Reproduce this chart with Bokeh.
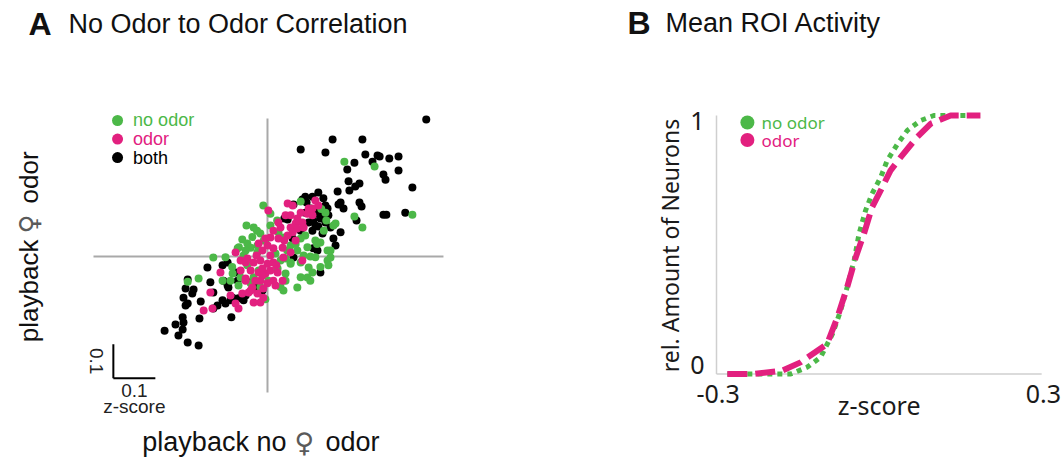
import math
from bokeh.plotting import figure
from bokeh.layouts import row
from bokeh.models import Label, Range1d
from bokeh.embed import file_html
from bokeh.resources import INLINE

GREEN = "#4cb848"
PINK = "#e2207f"
BLACK = "#000000"
GRAY = "#a9a9a9"
AXGRAY = "#cfcfcf"
SYMCOL = "#5a5a5a"
FONT_A = "Liberation Sans"
FONT_SYM = "DejaVu Sans"
FONT_B = "Noto Sans"
FEMALE = "\u2640"

# ---------------- Panel A data (z-score) ----------------
both_x = [0.378, 0.155, 0.226, 0.079, 0.138, 0.233, 0.262, 0.267, 0.290, 0.312,
          0.250, 0.207, 0.190, 0.312, 0.276, 0.281, 0.193, 0.219, 0.209, 0.345,
          0.195, 0.167, 0.121, 0.133, 0.174, 0.169, 0.181, 0.219, 0.224, 0.276,
          0.283, 0.328, 0.212, 0.062, 0.083, 0.102, 0.114, 0.126, 0.109, 0.090,
          0.098, 0.121, 0.107, 0.131, 0.040, 0.048, 0.150, 0.157, 0.109, 0.119,
          0.126, 0.062, -0.095, -0.076, -0.105, -0.095, -0.143, -0.107, -0.190, -0.136,
          -0.195, -0.176, -0.179, -0.200, -0.190, -0.195, -0.159, -0.129, -0.095, -0.093,
          -0.107, -0.100, -0.088, -0.083, -0.129, -0.119, -0.069, -0.057, -0.052, -0.162,
          -0.086, -0.202, -0.200, -0.219, -0.202, -0.212, -0.245, -0.190, -0.164, -0.071,
          -0.040, -0.029, -0.021, -0.012, 0.093, 0.107, 0.138, 0.145, 0.079, 0.138,
          0.060, 0.162, 0.174, 0.090, 0.121, 0.131, 0.114, 0.143]
both_y = [0.403, 0.344, 0.344, 0.315, 0.306, 0.300, 0.297, 0.294, 0.288, 0.294,
          0.279, 0.276, 0.256, 0.253, 0.241, 0.226, 0.221, 0.215, 0.206, 0.203,
          0.194, 0.191, 0.188, 0.171, 0.159, 0.153, 0.141, 0.159, 0.147, 0.123,
          0.123, 0.129, 0.106, 0.153, 0.168, 0.141, 0.126, 0.112, 0.106, 0.129,
          0.100, 0.088, 0.076, 0.068, 0.112, 0.109, 0.085, 0.053, 0.024, 0.018,
          -0.047, -0.003, -0.018, -0.047, -0.071, -0.085, -0.032, -0.026, -0.068, -0.076,
          -0.094, -0.097, -0.109, -0.121, -0.138, -0.144, -0.132, -0.106, -0.079, -0.091,
          -0.129, -0.138, -0.129, -0.121, -0.153, -0.144, -0.123, -0.129, -0.115, -0.182,
          -0.179, -0.179, -0.194, -0.200, -0.215, -0.232, -0.218, -0.253, -0.262, -0.071,
          -0.076, -0.091, -0.079, -0.100, 0.159, 0.176, 0.150, 0.121, 0.076, 0.100,
          0.053, 0.032, 0.071, 0.176, 0.135, 0.118, 0.091, 0.141]

no_odor_x = [0.183, 0.255, 0.345, 0.207, 0.226, 0.138, 0.079, 0.157, -0.010, -0.050,
             -0.033, -0.017, -0.060, -0.048, -0.040, -0.024, 0.026, 0.036, 0.079, 0.090,
             0.126, 0.128, 0.140, 0.162, 0.071, 0.086, 0.079, 0.098, 0.107, 0.095,
             0.143, 0.145, 0.019, 0.031, 0.024, 0.043, -0.057, -0.048, -0.064, -0.040,
             0.071, 0.143, 0.150, -0.129, -0.190, -0.164, -0.083, -0.069, -0.005, -0.107,
             0.007, -0.005, 0.055, 0.043, -0.021, 0.002, 0.055, 0.114, 0.060, 0.102,
             0.038, -0.024, -0.071, -0.100, -0.084, -0.068, -0.036, -0.025, -0.009, -0.052,
             -0.033, -0.017, 0.047, 0.055, 0.043, 0.095, 0.114, 0.126, 0.079, 0.102,
             0.150, 0.134, 0.118, 0.067, 0.023, 0.007, -0.088, 0.031]
no_odor_y = [0.279, 0.265, 0.123, 0.118, 0.085, 0.129, 0.162, 0.091, 0.150, 0.091,
             0.085, 0.068, 0.050, 0.038, 0.026, 0.032, 0.071, 0.056, 0.053, 0.062,
             0.041, 0.140, 0.106, 0.097, 0.018, 0.003, -0.018, -0.032, -0.047, -0.062,
             -0.012, -0.026, 0.009, -0.012, -0.035, -0.050, 0.003, -0.026, -0.062, -0.079,
             -0.091, 0.018, -0.003, -0.003, -0.074, -0.065, -0.050, -0.085, -0.126, -0.071,
             0.091, 0.047, 0.032, -0.006, -0.041, -0.071, -0.018, 0.047, 0.082, 0.000,
             -0.100, 0.012, 0.024, -0.002, -0.031, 0.027, 0.057, 0.076, 0.047, 0.018,
             -0.061, -0.090, 0.018, -0.021, -0.071, 0.027, -0.002, -0.031, -0.061, -0.071,
             0.018, 0.076, 0.037, 0.037, 0.106, 0.126, -0.071, -0.090]

odor_x = [0.098, 0.071, 0.002, 0.048, 0.060, 0.095, 0.083, 0.067, 0.055, 0.071,
          0.086, 0.014, 0.031, 0.007, 0.026, 0.048, 0.000, 0.014, 0.036, -0.048,
          -0.033, -0.017, 0.000, 0.014, -0.040, -0.021, -0.005, 0.007, -0.017, 0.000,
          0.014, 0.036, -0.052, -0.036, -0.010, -0.076, -0.064, 0.083, 0.038, -0.112,
          -0.136, -0.152, -0.131, -0.076, -0.069, -0.060, -0.040, -0.024, -0.017, -0.033,
          -0.052, -0.012, 0.024, 0.055, 0.067, 0.043, 0.107, 0.121, -0.010, -0.052,
          -0.026, -0.012, 0.007, 0.021, -0.012, 0.019, -0.029, 0.040, 0.060, 0.079,
          0.055, 0.026, -0.005, -0.021, -0.064, -0.045, -0.088, 0.114, 0.107]
odor_y = [0.141, 0.112, 0.135, 0.156, 0.150, 0.126, 0.100, 0.097, 0.085, 0.082,
          0.085, 0.076, 0.085, 0.056, 0.053, 0.062, 0.032, 0.024, 0.026, -0.006,
          -0.018, -0.012, -0.021, -0.018, -0.041, -0.047, -0.050, -0.041, -0.071, -0.079,
          -0.071, -0.071, -0.071, -0.091, -0.094, 0.012, -0.012, -0.012, -0.003, -0.047,
          -0.106, -0.159, -0.153, -0.138, -0.153, -0.109, -0.100, -0.109, -0.135, -0.135,
          -0.065, -0.035, -0.047, 0.012, 0.047, 0.121, 0.121, 0.150, -0.121, -0.018,
          0.003, 0.018, 0.003, -0.026, -0.056, -0.085, -0.071, 0.047, 0.071, 0.129,
          0.121, 0.100, 0.053, 0.038, -0.041, -0.106, -0.115, 0.165, 0.141]

legend_a_labels = ["no odor", "odor", "both"]
legend_a_colors = [GREEN, PINK, BLACK]
scale_bar = 0.1

# ---------------- Panel B data (cumulative) ----------------
cdf_no_odor_x = [-0.280, -0.163, -0.133, -0.108, -0.086, -0.071, -0.059, -0.046, -0.037,
                 -0.025, -0.013, 0.003, 0.015, 0.034, 0.052, 0.077, 0.101, 0.187]
cdf_no_odor_y = [0.0, 0.0, 0.026, 0.065, 0.155, 0.245, 0.335, 0.439, 0.542,
                 0.632, 0.697, 0.761, 0.826, 0.890, 0.942, 0.981, 1.0, 1.0]
cdf_odor_x = [-0.280, -0.231, -0.179, -0.145, -0.096, -0.077, -0.059, -0.043, -0.028,
              -0.013, 0.003, 0.021, 0.040, 0.070, 0.095, 0.132, 0.187]
cdf_odor_y = [0.0, 0.0, 0.013, 0.045, 0.116, 0.219, 0.335, 0.452, 0.542,
              0.645, 0.710, 0.787, 0.839, 0.916, 0.968, 1.0, 1.0]
x_ticks_b = [-0.3, 0.3]
y_ticks_b = [0, 1]
legend_b_labels = ["no odor", "odor"]
legend_b_colors = [GREEN, PINK]


def bare_fig(w, h, xr, yr):
    f = figure(width=w, height=h, x_range=Range1d(*xr), y_range=Range1d(*yr),
               x_axis_type=None, y_axis_type=None,
               toolbar_location=None, output_backend="svg",
               min_border_left=0, min_border_right=0,
               min_border_top=0, min_border_bottom=0,
               outline_line_color=None, background_fill_color="white",
               border_fill_color="white")
    f.grid.visible = False
    return f


def lab(p, x, y, text, font, size, color="#111", align="left", baseline="middle",
        angle=0.0, style="normal"):
    p.add_layout(Label(x=x, y=y, text=text, text_font=font, text_font_size=size,
                       text_color=color, text_align=align, text_baseline=baseline,
                       angle=angle, text_font_style=style))


# ================= Panel A =================
XA = (-0.6357, 0.7167)
YA = (-0.6176, 0.7529)
pa = bare_fig(568, 466, XA, YA)

# zero lines
pa.segment(x0=[-0.4143], y0=[0], x1=[0.419], y1=[0], line_color=GRAY, line_width=2)
pa.segment(x0=[0], y0=[-0.40], x1=[0], y1=[0.406], line_color=GRAY, line_width=2)

pa.scatter(both_x, both_y, size=8, fill_color=BLACK, line_color=None)
pa.scatter(no_odor_x, no_odor_y, size=8, fill_color=GREEN, line_color=None)
pa.scatter(odor_x, odor_y, size=8, fill_color=PINK, line_color=None)

# legend A
leg_x, leg_y0, leg_dy = -0.357, 0.400, 0.0545
for i, (t, col) in enumerate(zip(legend_a_labels, legend_a_colors)):
    yy = leg_y0 - i * leg_dy
    pa.scatter([leg_x], [yy], size=11, fill_color=col, line_color=None)
    lab(pa, leg_x + 0.037, yy, t, FONT_A, "18px", color=col)

# scale bar
sb_x, sb_y = -0.367, -0.358
pa.segment(x0=[sb_x], y0=[sb_y], x1=[sb_x + scale_bar], y1=[sb_y], line_color="black", line_width=2)
pa.segment(x0=[sb_x], y0=[sb_y], x1=[sb_x], y1=[sb_y + scale_bar], line_color="black", line_width=2)
lab(pa, sb_x + scale_bar / 2, -0.394, str(scale_bar), FONT_A, "19px", "#222", "center")
lab(pa, sb_x + scale_bar / 2, -0.441, "z-score", FONT_A, "19px", "#222", "center")
lab(pa, -0.407, sb_y + scale_bar / 2, str(scale_bar), FONT_A, "19px", "#222", "center",
    angle=-math.pi / 2)

# titles
lab(pa, -0.569, 0.685, "A", FONT_A, "32px", style="bold")
lab(pa, -0.474, 0.685, "No Odor to Odor Correlation", FONT_A, "27px")

# y label: "playback ♀ odor" (rotated, reading upward)
ylx = -0.567
lab(pa, ylx, -0.252, "playback", FONT_A, "26px", angle=math.pi / 2)
lab(pa, ylx, 0.096, FEMALE, FONT_SYM, "26px", SYMCOL, align="center", angle=math.pi / 2)
lab(pa, ylx, 0.156, "odor", FONT_A, "26px", angle=math.pi / 2)

# x label: "playback no ♀ odor"
xly = -0.547
lab(pa, -0.298, xly, "playback no", FONT_A, "27px")
lab(pa, 0.088, xly, FEMALE, FONT_SYM, "27px", SYMCOL, align="center")
lab(pa, 0.138, xly, "odor", FONT_A, "27px")

# ================= Panel B =================
XB = (-0.5731, 0.3403)
YB = (-0.3578, 1.4449)
pb = bare_fig(495, 466, XB, YB)

pb.segment(x0=[x_ticks_b[0]], y0=[0], x1=[x_ticks_b[1]], y1=[0], line_color=AXGRAY, line_width=1.5)
pb.segment(x0=[x_ticks_b[0]], y0=[0], x1=[x_ticks_b[0]], y1=[1], line_color=AXGRAY, line_width=1.5)

# tick labels
for t in x_ticks_b:
    lab(pb, t + 0.003, -0.079, str(t), FONT_B, "25px", "#1a1a1a", "center")
for t in y_ticks_b:
    lab(pb, -0.322, t + (0.033 if t == 0 else -0.023), str(t), FONT_B, "25px", "#1a1a1a", "right")

pb.line(cdf_no_odor_x, cdf_no_odor_y, line_color=GREEN, line_width=5, line_dash="5 5")
pb.line(cdf_odor_x, cdf_odor_y, line_color=PINK, line_width=6, line_dash="20 8")

lbx, lby0, lbdy = -0.243, 0.973, 0.068
for i, (t, col) in enumerate(zip(legend_b_labels, legend_b_colors)):
    yy = lby0 - i * lbdy
    pb.scatter([lbx], [yy], size=14, fill_color=col, line_color=None)
    lab(pb, lbx + 0.026, yy, t, FONT_B, "17px", col)

lab(pb, -0.464, 1.356, "B", FONT_A, "32px", style="bold")
lab(pb, -0.394, 1.356, "Mean ROI Activity", FONT_A, "27px")
lab(pb, -0.386, 0.497, "rel. Amount of Neurons", FONT_B, "23px", "#1a1a1a", "center",
    angle=math.pi / 2)
lab(pb, 0.0, -0.118, "z-score", FONT_B, "25px", "#1a1a1a", "center")

layout = row(pa, pb)
open("out.html", "w").write(file_html(layout, INLINE))
